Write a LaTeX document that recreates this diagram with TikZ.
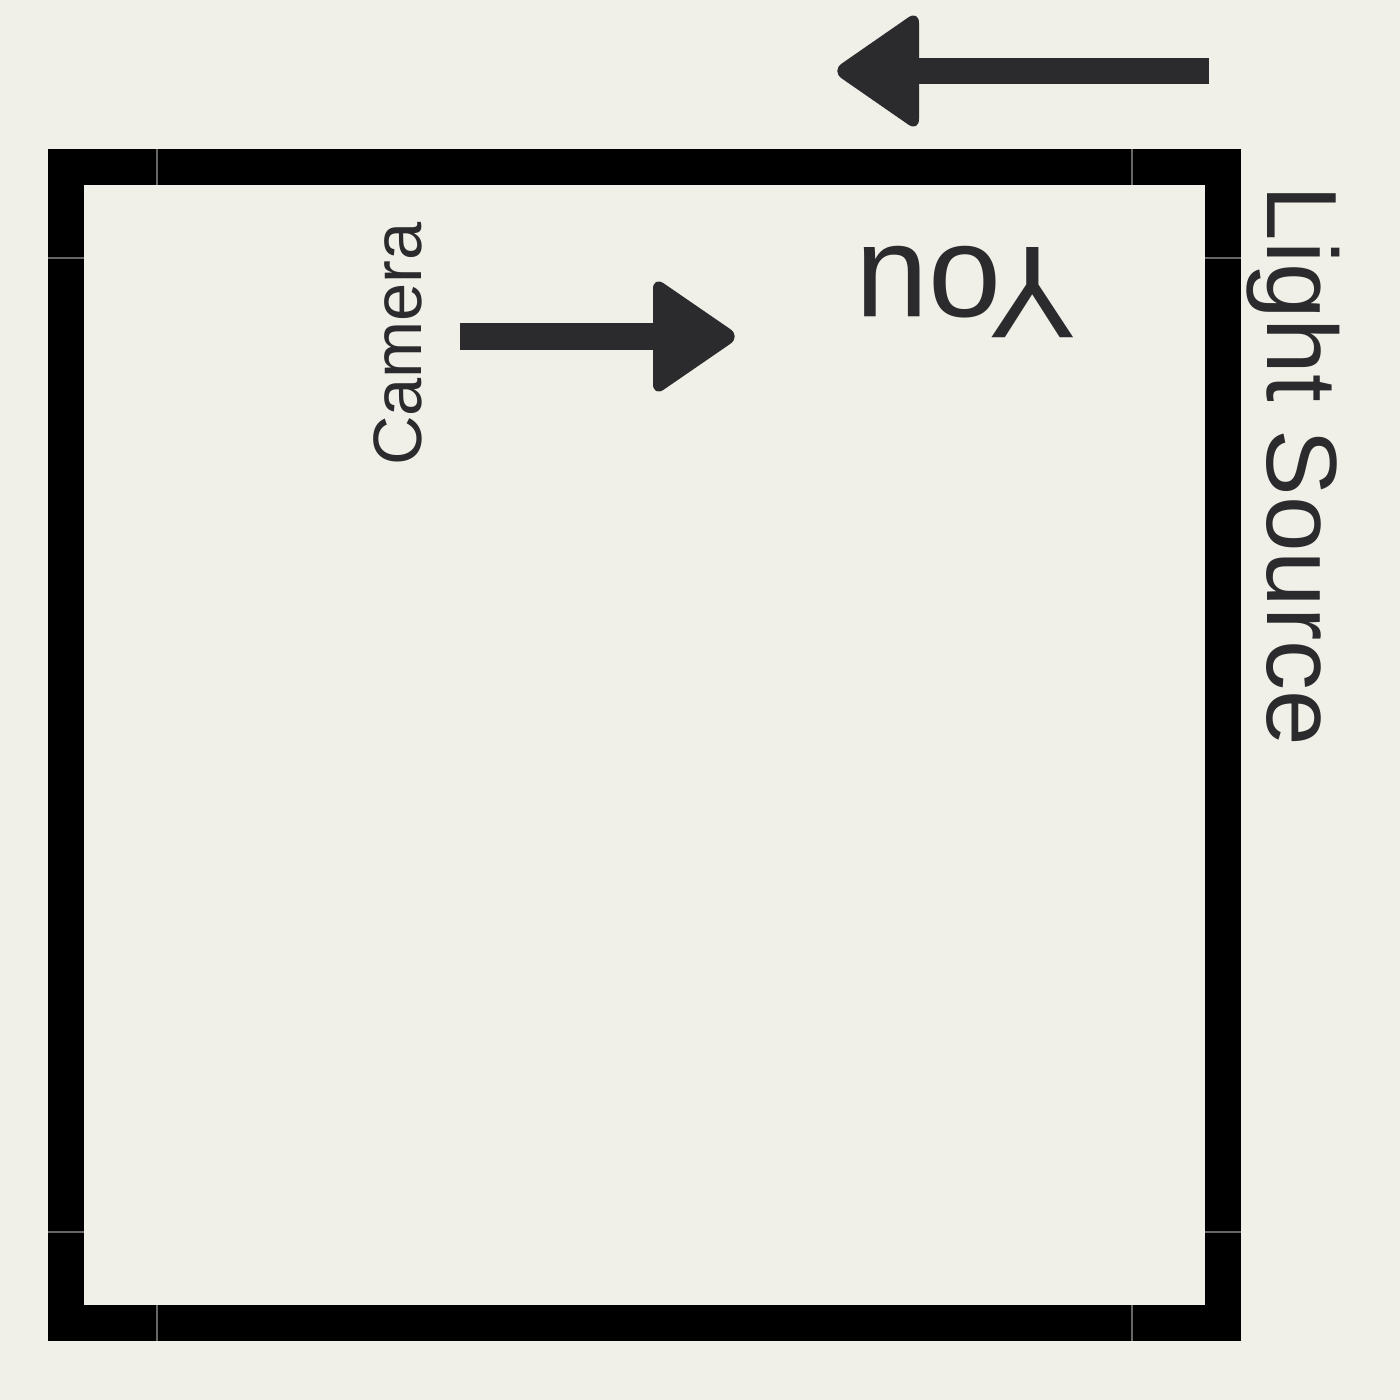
\documentclass[tikz,border=0pt]{standalone}
\usepackage{fontspec}
\setmainfont{Liberation Sans}
\definecolor{bgc}{RGB}{240,240,232}
\definecolor{ink}{RGB}{43,43,46}
\begin{document}
\begin{tikzpicture}[x=0.01cm,y=-0.01cm,
  frame/.style={draw=black,line width=0.36cm},
  seam/.style={draw=black!60,line width=0.3pt},
  shaft/.style={draw=ink,line width=0.26cm},
  head/.style={fill=ink,rounded corners=0.13cm},
  lbl/.style={text=ink,inner sep=0pt}]
\fill[bgc] (0,0) rectangle (1400,1400);
\useasboundingbox (0,0) rectangle (1400,1400);
% frame
\draw[frame] (66,167) rectangle (1223,1323);
\draw[seam] (157,149) -- (157,185) (1132,149) -- (1132,185)
            (157,1305) -- (157,1341) (1132,1305) -- (1132,1341)
            (48,258) -- (84,258) (48,1232) -- (84,1232)
            (1205,258) -- (1241,258) (1205,1232) -- (1241,1232);
% labels
\node[lbl,rotate=90,font=\fontsize{19.5pt}{22pt}\selectfont] (cam) at (397.5,344) {Camera};
\node[lbl,rotate=180,font=\fontsize{37.3pt}{42pt}\selectfont] (you) at (966,292) {You};
\node[lbl,rotate=-90,font=\fontsize{28.4pt}{32pt}\selectfont] (light) at (1293.5,466) {Light Source};
% top arrow (light direction)
\coordinate (ta1) at (1209,71);
\coordinate (ta2) at (905,71);
\draw[shaft] (ta1) -- (ta2);
\fill[head] (919,10) -- (919,132) -- (831,71) -- cycle;
% camera arrow
\coordinate (ca1) at (460,336.5);
\coordinate (ca2) at (665,336.5);
\draw[shaft] (ca1) -- (ca2);
\fill[head] (653,276) -- (653,397) -- (741,336.5) -- cycle;
\end{tikzpicture}
\end{document}
